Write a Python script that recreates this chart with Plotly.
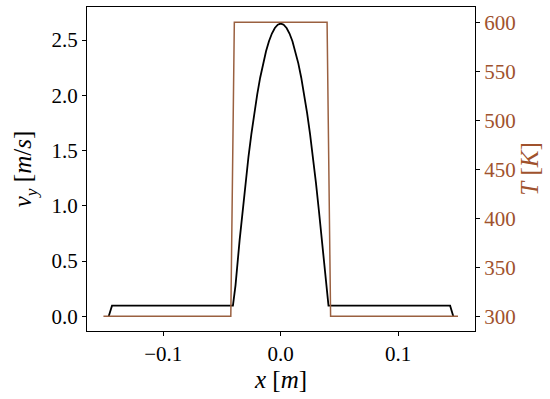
import plotly.graph_objects as go
from plotly.subplots import make_subplots

# velocity profile v_y(x)
x_v = [-0.1465, -0.1437, -0.0407, -0.0385, -0.035, -0.0325, -0.030, -0.0275, -0.025,
       -0.0225, -0.020, -0.0175, -0.015, -0.0125, -0.010, -0.0075, -0.005, -0.0025, 0.0,
       0.0025, 0.005, 0.0075, 0.010, 0.0125, 0.015, 0.0175, 0.020, 0.0225, 0.025,
       0.0275, 0.030, 0.0325, 0.035, 0.0385, 0.0407, 0.1443, 0.1470]
v_y = [0.0, 0.096, 0.096, 0.28, 0.69, 0.96, 1.21, 1.44, 1.65,
       1.84, 2.01, 2.16, 2.29, 2.40, 2.49, 2.56, 2.61, 2.64, 2.65,
       2.64, 2.61, 2.56, 2.49, 2.40, 2.29, 2.16, 2.01, 1.84, 1.65,
       1.44, 1.21, 0.96, 0.69, 0.28, 0.096, 0.096, 0.0]

# temperature profile T(x)
x_T = [-0.151, -0.0425, -0.0395, 0.0395, 0.0425, 0.151]
T = [300, 300, 600, 600, 300, 300]

x_ticks = [-0.1, 0.0, 0.1]
v_ticks = [0.0, 0.5, 1.0, 1.5, 2.0, 2.5]
T_ticks = [300, 350, 400, 450, 500, 550, 600]

brown = "#a0522d"
font_name = "Liberation Serif"

fig = make_subplots(specs=[[{"secondary_y": True}]])

fig.add_trace(go.Scatter(x=x_T, y=T, mode="lines",
                         line=dict(color="#9a6040", width=1.5)),
              secondary_y=True)
fig.add_trace(go.Scatter(x=x_v, y=v_y, mode="lines",
                         line=dict(color="black", width=1.8)),
              secondary_y=False)

fig.update_layout(
    width=550, height=399,
    margin=dict(l=87, r=75, t=7, b=68),
    plot_bgcolor="white", paper_bgcolor="white",
    showlegend=False,
    font=dict(family=font_name, size=21, color="black"),
)

# secondary_y subplot shrinks the x domain, put it back to full width
fig.update_xaxes(domain=[0, 1], range=[-0.165, 0.1655], tickvals=x_ticks, tickformat=".1f",
                 showline=True, linecolor="black", linewidth=1, mirror=True,
                 ticks="outside", ticklen=4, tickcolor="black",
                 showgrid=False, zeroline=False, automargin=False,
                 title=dict(text="<i>x</i> [<i>m</i>]", standoff=4))

fig.update_yaxes(range=[-0.133, 2.80], tickvals=v_ticks, tickformat=".1f",
                 showline=True, linecolor="black", linewidth=1,
                 ticks="outside", ticklen=4, tickcolor="black",
                 showgrid=False, zeroline=False, automargin=False,
                 title=dict(text="<i>v</i><sub><i>y</i></sub> [<i>m</i>/<i>s</i>]", standoff=12),
                 secondary_y=False)

fig.update_yaxes(range=[285, 615.6], tickvals=T_ticks,
                 showline=True, linecolor="black", linewidth=1,
                 ticks="outside", ticklen=4, tickcolor="black",
                 tickfont=dict(color=brown),
                 showgrid=False, zeroline=False, automargin=False,
                 title=dict(text="<i>T</i> [<i>K</i>]", font=dict(color=brown), standoff=0),
                 secondary_y=True)

# page body has a default 8px margin, drop it so the figure sits at 0,0
fig.write_html("out.html", config={"displayModeBar": False},
               post_script="document.body.style.margin='0';")
